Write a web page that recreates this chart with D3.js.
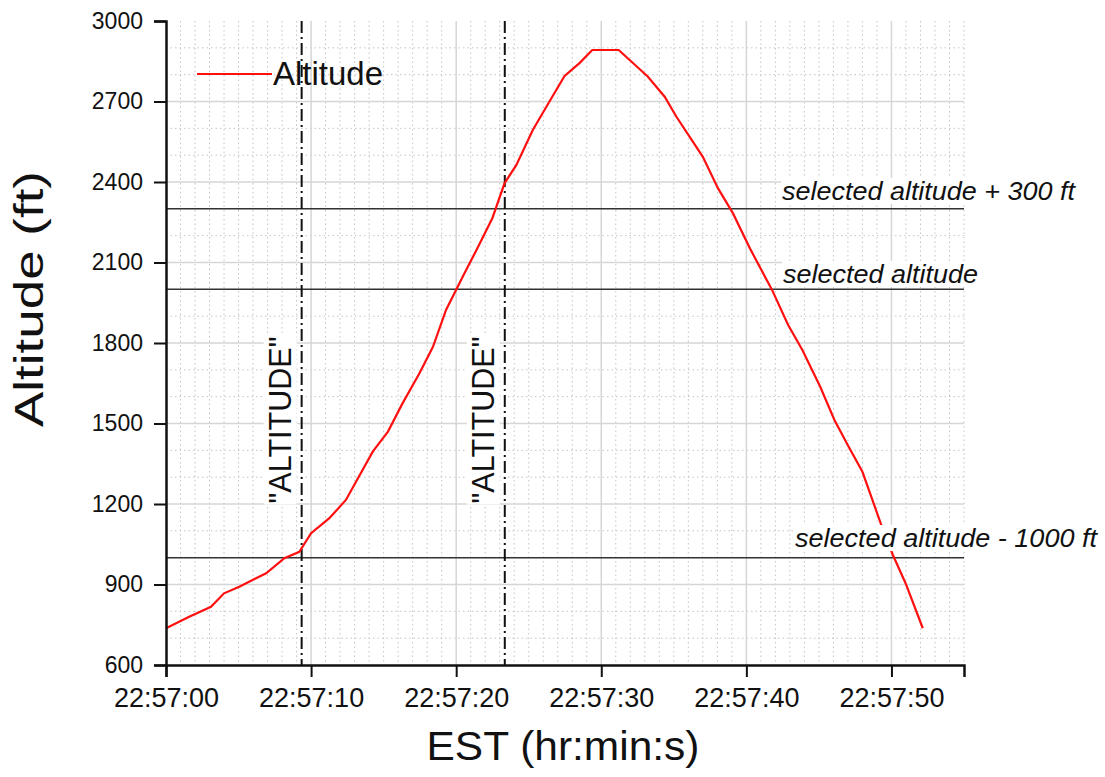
<!DOCTYPE html>
<html>
<head>
<meta charset="utf-8">
<script src="https://cdnjs.cloudflare.com/ajax/libs/d3/7.8.5/d3.min.js"></script>
<style>
  body { margin: 0; background: #fff; }
  text { font-family: Arial, 'Liberation Sans', sans-serif; fill: #111; }
</style>
</head>
<body>
<div id="chart"></div>
<script>
// seconds after 22:57:00 and altitude in ft
var timeSec = [0, 1.6, 3.1, 4.0, 5.05, 6.9, 8.16, 9.19, 10.0, 11.26, 12.4, 14.25, 15.3, 16.3,
  17.47, 18.4, 19.3, 20.45, 21.4, 22.5, 23.33, 24.14, 25.28, 26.43, 27.47, 28.5, 29.38, 31.2,
  33.2, 34.37, 35.17, 37.0, 38.04, 39.08, 40.3, 41.77, 42.88, 43.86, 45.09, 46.07, 47.05, 48.0,
  49.26, 50.1, 50.98, 52.16];
var altitude = [737, 780, 817, 867, 892, 942, 998, 1022, 1091, 1147, 1215, 1395, 1470, 1575,
  1687, 1786, 1923, 2047, 2147, 2266, 2395, 2463, 2594, 2700, 2795, 2843, 2892, 2892,
  2793, 2718, 2644, 2494, 2377, 2283, 2147, 1998, 1867, 1774, 1637, 1513, 1413, 1320,
  1128, 1010, 904, 737];

var refLevels = [2300, 2000, 1000];
var refLabels = ['selected altitude + 300 ft', 'selected altitude', 'selected altitude - 1000 ft'];
var eventSec = [9.35, 23.35];
var eventLabels = ['"ALTITUDE"', '"ALTITUDE"'];

var yTicks = [600, 900, 1200, 1500, 1800, 2100, 2400, 2700, 3000];

var width = 1105, height = 777;
var mLeft = 166, mRight = 964, mTop = 21, mBottom = 665;

var svg = d3.select('#chart').append('svg')
  .attr('width', width)
  .attr('height', height);

var t0 = new Date(2000, 0, 1, 22, 57, 0);
function toDate(s) { return new Date(t0.getTime() + s * 1000); }

var x = d3.scaleTime()
  .domain([t0, toDate(55)])
  .range([mLeft, mRight]);
var y = d3.scaleLinear()
  .domain([600, 3000])
  .range([mBottom, mTop]);

var majorX = d3.range(0, 60, 10).map(toDate);
var minorX = d3.range(0, 56, 1).map(toDate);
var minorY = d3.range(600, 3001, 100);

// grid
var grid = svg.append('g').attr('class', 'grid');
grid.selectAll('line.minor-x').data(minorX.filter(function(d, i) { return i % 10 !== 0; }))
  .enter().append('line')
  .attr('x1', function(d) { return x(d); })
  .attr('x2', function(d) { return x(d); })
  .attr('y1', mTop).attr('y2', mBottom)
  .attr('stroke', '#c4c4c4').attr('stroke-width', 1).attr('stroke-dasharray', '1.5,3');
grid.selectAll('line.minor-y').data(minorY.filter(function(d) { return d % 300 !== 0; }))
  .enter().append('line')
  .attr('x1', mLeft).attr('x2', mRight)
  .attr('y1', function(d) { return y(d); })
  .attr('y2', function(d) { return y(d); })
  .attr('stroke', '#c4c4c4').attr('stroke-width', 1).attr('stroke-dasharray', '1.5,3');
grid.selectAll('line.major-x').data(majorX.slice(1))
  .enter().append('line')
  .attr('x1', function(d) { return x(d); })
  .attr('x2', function(d) { return x(d); })
  .attr('y1', mTop).attr('y2', mBottom)
  .attr('stroke', '#d6d6d6').attr('stroke-width', 1.5);
grid.selectAll('line.major-y').data(yTicks.slice(1, -1))
  .enter().append('line')
  .attr('x1', mLeft).attr('x2', mRight)
  .attr('y1', function(d) { return y(d); })
  .attr('y2', function(d) { return y(d); })
  .attr('stroke', '#d6d6d6').attr('stroke-width', 1.5);

// reference altitudes
svg.selectAll('line.ref').data(refLevels)
  .enter().append('line')
  .attr('class', 'ref')
  .attr('x1', mLeft).attr('x2', mRight)
  .attr('y1', function(d) { return y(d); })
  .attr('y2', function(d) { return y(d); })
  .attr('stroke', '#333').attr('stroke-width', 1.5);

// event markers
svg.selectAll('line.event').data(eventSec)
  .enter().append('line')
  .attr('class', 'event')
  .attr('x1', function(d) { return x(toDate(d)); })
  .attr('x2', function(d) { return x(toDate(d)); })
  .attr('y1', mTop).attr('y2', mBottom)
  .attr('stroke', '#111').attr('stroke-width', 2)
  .attr('stroke-dasharray', '12,4,2,4');

// altitude trace
var line = d3.line()
  .x(function(d, i) { return x(toDate(timeSec[i])); })
  .y(function(d) { return y(d); });
svg.append('path')
  .datum(altitude)
  .attr('d', line)
  .attr('fill', 'none')
  .attr('stroke', '#ff1010')
  .attr('stroke-width', 2.2);

// labels with white backing
function boxedText(g) {
  g.each(function() {
    var t = d3.select(this).select('text');
    var b = t.node().getBBox();
    d3.select(this).insert('rect', 'text')
      .attr('x', b.x - 1).attr('y', b.y + 1)
      .attr('width', b.width + 2).attr('height', b.height - 2)
      .attr('fill', '#fff');
  });
}

var refX = [782, 783, 795];
var refBase = [200, 283, 547];
var refWidth = [293, 195, 302];
var refG = svg.selectAll('g.ref-label').data(refLabels)
  .enter().append('g').attr('class', 'ref-label');
refG.append('text')
  .attr('x', function(d, i) { return refX[i]; })
  .attr('y', function(d, i) { return refBase[i]; })
  .attr('font-size', 25)
  .attr('font-style', 'italic')
  .attr('textLength', function(d, i) { return refWidth[i]; })
  .attr('lengthAdjust', 'spacingAndGlyphs')
  .text(function(d) { return d; });
refG.call(boxedText);

var evG = svg.selectAll('g.event-label').data(eventLabels)
  .enter().append('g').attr('class', 'event-label')
  .attr('transform', function(d, i) {
    return 'translate(' + (x(toDate(eventSec[i])) - 11) + ',420) rotate(-90)';
  });
evG.append('text')
  .attr('text-anchor', 'middle')
  .attr('font-size', 31)
  .attr('textLength', 167)
  .attr('lengthAdjust', 'spacingAndGlyphs')
  .text(function(d) { return d; });
evG.call(boxedText);

// axes
var xAxis = svg.append('g')
  .attr('transform', 'translate(0,' + mBottom + ')');
xAxis.call(d3.axisBottom(x).tickValues(minorX).tickSize(7).tickFormat(''));
xAxis.call(d3.axisBottom(x).tickValues(majorX).tickSize(12).tickPadding(11)
  .tickFormat(d3.timeFormat('%H:%M:%S')));
var yAxis = svg.append('g')
  .attr('transform', 'translate(' + mLeft + ',0)');
yAxis.call(d3.axisLeft(y).tickValues(minorY).tickSize(7).tickFormat(''));
yAxis.call(d3.axisLeft(y).tickValues(yTicks).tickSize(12).tickPadding(11)
  .tickFormat(d3.format('d')));

svg.selectAll('.domain').attr('stroke', '#111').attr('stroke-width', 2.5);
svg.selectAll('.tick line').attr('stroke', '#111').attr('stroke-width', 2);
xAxis.selectAll('.tick text').attr('font-size', 27).attr('fill', '#111');
yAxis.selectAll('.tick text').attr('font-size', 23).attr('fill', '#111');
svg.selectAll('.tick text').attr('font-family', "Arial, 'Liberation Sans', sans-serif");

// axis titles
svg.append('text')
  .attr('x', 563).attr('y', 760)
  .attr('text-anchor', 'middle')
  .attr('font-size', 40)
  .attr('textLength', 273)
  .attr('lengthAdjust', 'spacingAndGlyphs')
  .text('EST (hr:min:s)');
svg.append('text')
  .attr('transform', 'translate(43,299) rotate(-90)')
  .attr('text-anchor', 'middle')
  .attr('font-size', 40)
  .attr('textLength', 256)
  .attr('lengthAdjust', 'spacingAndGlyphs')
  .text('Altitude (ft)');

// legend
svg.append('line')
  .attr('x1', 197).attr('x2', 272)
  .attr('y1', 74).attr('y2', 74)
  .attr('stroke', '#ff1010').attr('stroke-width', 2.2);
svg.append('text')
  .attr('x', 273).attr('y', 85)
  .attr('font-size', 33)
  .text('Altitude');
</script>
</body>
</html>
